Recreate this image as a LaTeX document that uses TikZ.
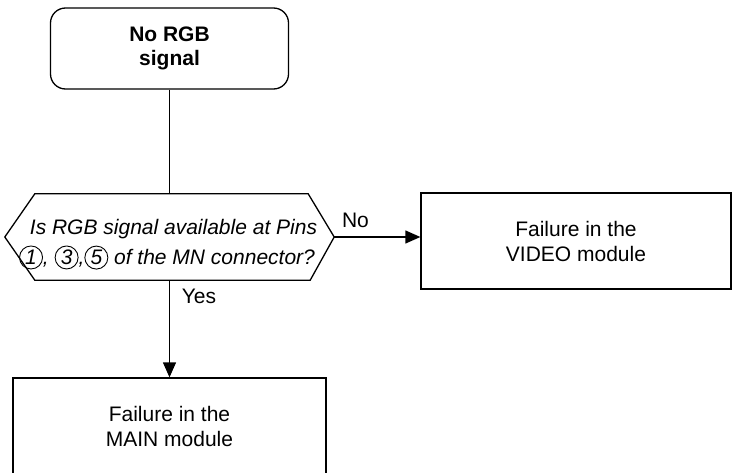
\documentclass[tikz,border=0pt]{standalone}
\usepackage{fontspec}
\setmainfont{Liberation Sans}
\usetikzlibrary{arrows.meta}
\newcommand\cdig[1]{\tikz[baseline=(cd.base)]\node[circle,draw,line width=0.9pt,inner sep=0pt,minimum size=23pt](cd){\itshape #1};}
\tikzset{
  base/.style={line width=1.3pt},
  txt/.style={font=\fontsize{21}{25}\selectfont, align=center},
  startbox/.style={base, txt, draw, rounded corners=15pt, minimum width=238pt, minimum height=81pt, font=\fontsize{21}{24}\selectfont\bfseries},
  procbox/.style={base, txt, draw, minimum width=310pt, minimum height=96pt},
  arr/.style={base, -{Triangle[length=15pt,width=13pt]}},
  lbl/.style={font=\fontsize{21}{25}\selectfont, anchor=base, inner sep=0pt}
}
\begin{document}
\begin{tikzpicture}[x=1pt,y=-1pt]
\clip (0,0) rectangle (738,473);
\useasboundingbox (0,0) rectangle (738,473);
\node[startbox] (start) at (169.5,48.5) {No RGB\\signal};
\node[minimum width=329pt, minimum height=86pt, inner sep=0pt] (dec) at (169.5,237) {};
\draw[base] (dec.west) -- ([xshift=30pt]dec.north west) -- ([xshift=-26pt]dec.north east) -- (dec.east) -- ([xshift=-24pt]dec.south east) -- ([xshift=30pt]dec.south west) -- cycle;
\node[txt, font=\fontsize{21}{30}\selectfont\itshape, inner sep=0pt] (dectext) at (167,244.5) {\hspace*{13pt}Is RGB signal available at Pins\\\cdig{1}, \cdig{3},\cdig{5} of the MN connector?};
\node[procbox] (video) at (576,241) {Failure in the\\VIDEO module};
\node[procbox, minimum width=313pt] (main) at (169.5,426) {Failure in the\\MAIN module};
\draw[base] (start.south) -- (dec.north);
\draw[arr] (dec.east) -- (dec.east -| video.west);
\draw[arr] (dec.south) -- (main.north);
\node[lbl] (no) at (355.5,227) {No};
\node[lbl] (yes) at (199,303) {Yes};
\end{tikzpicture}
\end{document}
